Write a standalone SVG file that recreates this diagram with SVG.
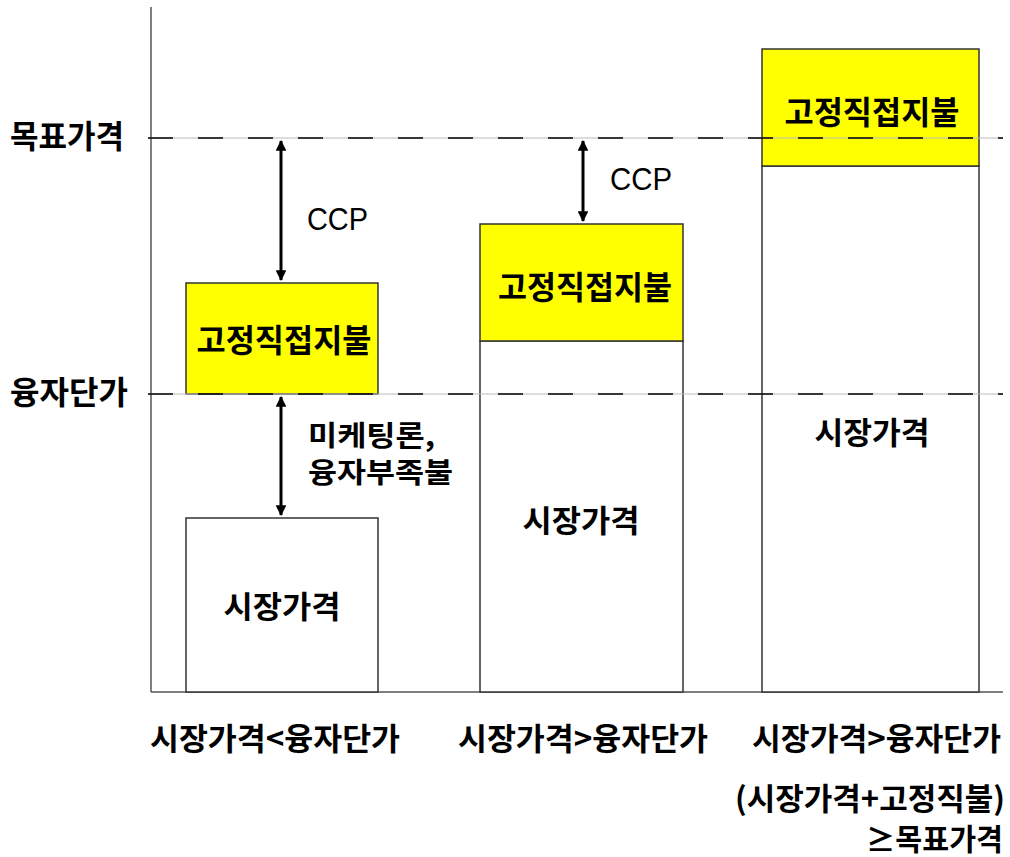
<svg xmlns="http://www.w3.org/2000/svg" width="1010" height="857" viewBox="0 0 1010 857">
<style>
.k{font-family:"Noto Sans CJK KR","Noto Sans",sans-serif;font-weight:bold;fill:#000;}
.e{font-family:"Liberation Sans",Arial,sans-serif;fill:#000;}
.y{fill:#ffff00;stroke:#333;stroke-width:1.5;}
.w{fill:#fff;stroke:#333;stroke-width:1.5;}
.ax{stroke:#555;stroke-width:1.5;fill:none;}
.gl{stroke:#bbb;stroke-width:1;}
.dl{stroke:#000;stroke-width:1.5;stroke-dasharray:25 25;}
.ar{stroke:#000;stroke-width:3;marker-start:url(#ah);marker-end:url(#ah);}
</style>
<defs>
<marker id="ah" viewBox="0 0 10 10" refX="9" refY="5" markerWidth="4.2" markerHeight="3.6" orient="auto-start-reverse" markerUnits="strokeWidth">
<path d="M0,0 L10,5 L0,10 z" fill="#000"/>
</marker>
</defs>
<rect width="1010" height="857" fill="#fff"/>
<g id="axes">
<line class="ax" x1="151" y1="7" x2="151" y2="692"/>
<line class="ax" x1="151" y1="692" x2="1003" y2="692"/>
</g>
<g id="bar1">
<rect class="w" x="186" y="518" width="192" height="174"/>
<text class="k" x="282" y="618" font-size="31" text-anchor="middle" textLength="117" lengthAdjust="spacingAndGlyphs">시장가격</text>
</g>
<g id="fixed1">
<rect class="y" x="186" y="283" width="192" height="111"/>
<text class="k" x="284" y="352" font-size="32" text-anchor="middle" textLength="175" lengthAdjust="spacingAndGlyphs">고정직접지불</text>
</g>
<g id="bar2">
<rect class="w" x="480" y="341" width="203" height="351"/>
<text class="k" x="581" y="532" font-size="31" text-anchor="middle" textLength="117" lengthAdjust="spacingAndGlyphs">시장가격</text>
</g>
<g id="fixed2">
<rect class="y" x="480" y="224" width="203" height="117"/>
<text class="k" x="585" y="299" font-size="32" text-anchor="middle" textLength="174" lengthAdjust="spacingAndGlyphs">고정직접지불</text>
</g>
<g id="bar3">
<rect class="w" x="762" y="166" width="217" height="526"/>
<text class="k" x="872" y="444" font-size="31" text-anchor="middle" textLength="115" lengthAdjust="spacingAndGlyphs">시장가격</text>
</g>
<g id="fixed3">
<rect class="y" x="762" y="49" width="217" height="117"/>
<text class="k" x="872" y="124" font-size="32" text-anchor="middle" textLength="175" lengthAdjust="spacingAndGlyphs">고정직접지불</text>
</g>
<g id="levels">
<line class="gl" x1="148" y1="138" x2="1003" y2="138"/>
<line class="dl" x1="148" y1="138" x2="1003" y2="138"/>
<line class="gl" x1="148" y1="394" x2="1003" y2="394"/>
<line class="dl" x1="148" y1="394" x2="1003" y2="394"/>
<text class="k" x="10" y="148" font-size="32" textLength="114" lengthAdjust="spacingAndGlyphs">목표가격</text>
<text class="k" x="10" y="404" font-size="32" textLength="118" lengthAdjust="spacingAndGlyphs">융자단가</text>
</g>
<g id="connectors">
<line class="ar" x1="281" y1="141" x2="281" y2="280"/>
<line class="ar" x1="281" y1="397" x2="281" y2="515"/>
<line class="ar" x1="583" y1="141" x2="583" y2="221"/>
</g>
<g id="labels">
<text class="e" x="307" y="230" font-size="32" textLength="61" lengthAdjust="spacingAndGlyphs">CCP</text>
<text class="e" x="610" y="190" font-size="32" textLength="62" lengthAdjust="spacingAndGlyphs">CCP</text>
<text class="k" x="308" y="446" font-size="28" textLength="127" lengthAdjust="spacingAndGlyphs">미케팅론,</text>
<text class="k" x="308" y="483" font-size="28" textLength="145" lengthAdjust="spacingAndGlyphs">융자부족불</text>
<text class="k" x="150" y="750" font-size="31" textLength="250" lengthAdjust="spacingAndGlyphs">시장가격&lt;융자단가</text>
<text class="k" x="458" y="750" font-size="31" textLength="250" lengthAdjust="spacingAndGlyphs">시장가격&gt;융자단가</text>
<text class="k" x="752" y="750" font-size="31" textLength="249" lengthAdjust="spacingAndGlyphs">시장가격&gt;융자단가</text>
<text class="k" x="735" y="810" font-size="31" textLength="270" lengthAdjust="spacingAndGlyphs">(시장가격+고정직불)</text>
<text class="k" x="866" y="850" font-size="30" textLength="137" lengthAdjust="spacingAndGlyphs">≥목표가격</text>
</g>
</svg>
